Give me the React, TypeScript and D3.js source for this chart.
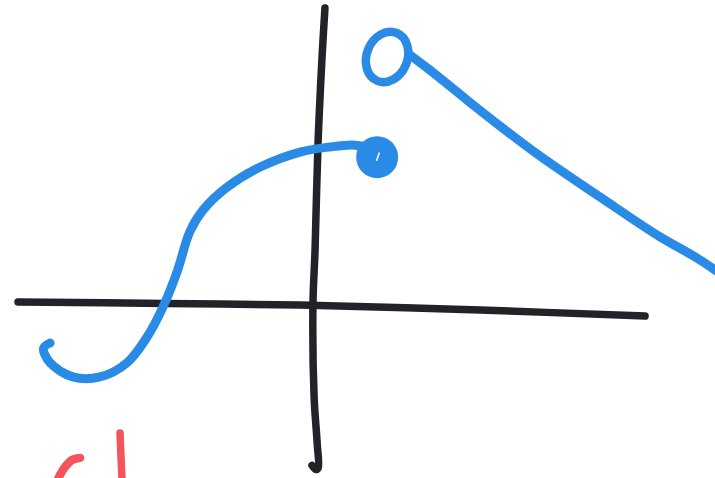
import React from "react";
import * as d3 from "d3";

// Sketch of a piecewise function with a jump discontinuity.
// Coordinates are in graph units: origin where the axes cross.
type P = [number, number];

const xAxisPts: P[] = [[-9.9, 0.1], [-5, 0.05], [-0.5, 0], [5.5, -0.17], [11, -0.37]];
const yAxisPts: P[] = [
  [0.33, 9.9], [0.23, 8.2], [0.1, 5.4], [0, 1.83], [-0.07, 0], [-0.03, -3.1],
  [0.07, -4.6], [0.1, -5.45], [0.02, -5.48], [-0.1, -5.35],
];

// left branch, ending in the closed dot
const leftBranch: P[] = [
  [-8.83, -1.27], [-9.05, -1.45], [-8.83, -1.93], [-8.07, -2.4], [-7.17, -2.4],
  [-6.27, -1.93], [-5.6, -1.07], [-5.07, -0.07], [-4.6, 1.1],
  [-4.17, 2.45], [-3.73, 3.17], [-2.93, 3.93], [-1.83, 4.6], [-0.5, 5.1],
  [0.5, 5.27], [1.33, 5.33], [1.77, 5.23], [2, 4.97],
];
const closedDot: P = [2.07, 4.93];

// right branch, starting at the open circle
const openCircle: P = [2.4, 8.27];
const rightBranch: P[] = [
  [3.17, 8.33], [3.83, 7.83], [5.07, 6.83], [7.27, 5.13], [9.5, 3.6],
  [11.5, 2.27], [12.83, 1.5], [13.43, 1.1],
];

// red pen strokes at the bottom edge
const redStrokeA: P[] = [[-7.83, -5.1], [-8.1, -5.17], [-8.33, -5.4], [-8.5, -5.67], [-8.6, -5.9]];
const redStrokeB: P[] = [[-6.5, -4.27], [-6.47, -5], [-6.43, -5.9]];

const W = 715;
const H = 478;
const x = d3.scaleLinear().domain([-10.5, 13.33]).range([0, W]);
const y = d3.scaleLinear().domain([-5.77, 10.17]).range([H, 0]);

const BLUE = "#2a8be6";
const INK = "#222328";
const RED = "#f2555b";

const smooth = d3
  .line<P>()
  .x((d) => x(d[0]))
  .y((d) => y(d[1]))
  .curve(d3.curveCatmullRom.alpha(0.5));

const monotone = d3
  .line<P>()
  .x((d) => x(d[0]))
  .y((d) => y(d[1]))
  .curve(d3.curveMonotoneX);

export default function App() {
  const unit = x(1) - x(0);
  return (
    <svg
      width={W}
      height={H}
      viewBox={`0 0 ${W} ${H}`}
      style={{ position: "absolute", top: 0, left: 0, background: "#ffffff" }}
    >
      <g fill="none" strokeLinecap="round" strokeLinejoin="round">
        <path d={smooth(xAxisPts) ?? ""} stroke={INK} strokeWidth={7.5} />
        <path d={smooth(yAxisPts) ?? ""} stroke={INK} strokeWidth={7.5} />
        <path d={smooth(leftBranch) ?? ""} stroke={BLUE} strokeWidth={9} />
        <path d={monotone(rightBranch) ?? ""} stroke={BLUE} strokeWidth={9} />
        <ellipse
          cx={0}
          cy={0}
          rx={unit * 0.68}
          ry={unit * 0.86}
          transform={`translate(${x(openCircle[0])},${y(openCircle[1])}) rotate(22)`}
          stroke={BLUE}
          strokeWidth={8.5}
        />
        <path d={smooth(redStrokeA) ?? ""} stroke={RED} strokeWidth={8.5} />
        <path d={smooth(redStrokeB) ?? ""} stroke={RED} strokeWidth={7.5} />
      </g>
      <circle cx={x(closedDot[0])} cy={y(closedDot[1])} r={unit * 0.7} fill={BLUE} />
      <line
        x1={x(closedDot[0]) + 2}
        y1={y(closedDot[1]) - 4}
        x2={x(closedDot[0]) - 0.5}
        y2={y(closedDot[1]) + 3}
        stroke="#ffffff"
        strokeWidth={1.5}
        strokeLinecap="round"
      />
    </svg>
  );
}
